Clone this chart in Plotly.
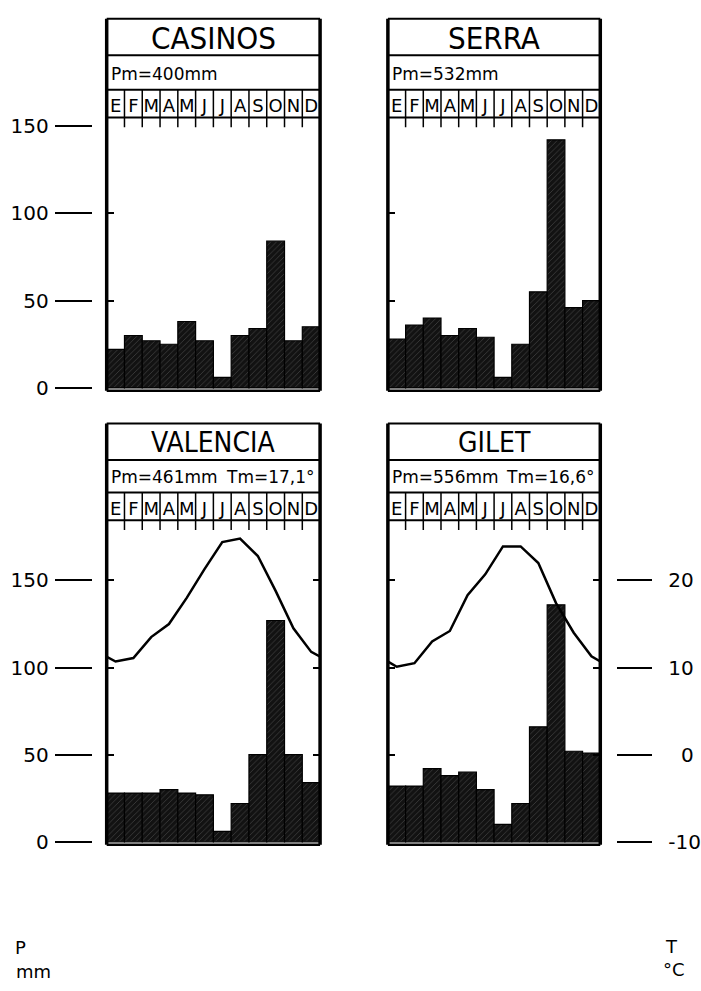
import plotly.graph_objects as go

# ---------------- data ----------------
months = ["E", "F", "M", "A", "M", "J", "J", "A", "S", "O", "N", "D"]
stations = ["CASINOS", "SERRA", "VALENCIA", "GILET"]
pm_labels = ["Pm=400mm", "Pm=532mm", "Pm=461mm", "Pm=556mm"]
tm_labels = ["", "", "Tm=17,1°", "Tm=16,6°"]

p_casinos = [22, 30, 27, 25, 38, 27, 6, 30, 34, 84, 27, 35]
p_serra = [28, 36, 40, 30, 34, 29, 6, 25, 55, 142, 46, 50]
p_valencia = [28, 28, 28, 30, 28, 27, 6, 22, 50, 127, 50, 34]
p_gilet = [32, 32, 42, 38, 40, 30, 10, 22, 66, 136, 52, 51]

t_valencia = [10.7, 11.1, 13.5, 15.0, 18.0, 21.3, 24.4, 24.8, 22.8, 18.8, 14.5, 11.8]
t_gilet = [10.1, 10.5, 13.0, 14.2, 18.3, 20.7, 23.9, 23.9, 22.0, 17.4, 14.0, 11.3]

p_ticks = [0, 50, 100, 150]
t_ticks = [-10, 0, 10, 20]

# ---------------- layout geometry (pixels) ----------------
W, H = 701, 991
def px(x):
    return x / W
def py(y):
    return 1 - y / H

cols = [(107, 321), (389, 602)]
rows = [
    dict(h0=15, h1=52, h2=87, h3=115, b=392, zero=389, scale=1.77),
    dict(h0=425, h1=462, h2=495, h3=523, b=852, zero=849, scale=1.766),
]
panels = [(0, 0), (0, 1), (1, 0), (1, 1)]
precip = [p_casinos, p_serra, p_valencia, p_gilet]
temps = [None, None, t_valencia, t_gilet]

TXT = "DejaVu Sans, Arial, sans-serif"
NARROW = "Liberation Sans Narrow, DejaVu Sans Condensed, Arial Narrow, sans-serif"

fig = go.Figure()
layout = dict(
    width=W, height=H, margin=dict(l=0, r=0, t=0, b=0),
    paper_bgcolor="white", plot_bgcolor="white", showlegend=False,
    font=dict(family=TXT, color="black"),
)
shapes = []
annotations = []

month_idx = list(range(12))

for k, ((r, c), p, t) in enumerate(zip(panels, precip, temps)):
    n = k + 1
    sx = "" if n == 1 else str(n)
    x0, x1 = cols[c]
    g = rows[r]
    yrange = [(g["zero"] - g["b"]) / g["scale"], (g["zero"] - g["h3"]) / g["scale"]]

    fig.add_trace(go.Bar(
        x=month_idx, y=p, width=1.0, xaxis="x" + sx, yaxis="y" + sx,
        marker=dict(color="#121212", line=dict(color="black", width=1.2),
                    pattern=dict(shape="/", fgcolor="#6f6f6f", bgcolor="#121212",
                                 size=4, solidity=0.2)),
        hoverinfo="skip",
    ))

    layout["xaxis" + sx] = dict(
        domain=[px(x0), px(x1)], range=[-0.5, 11.5], anchor="y" + sx,
        side="top", tickvals=month_idx, ticktext=months, ticks="", tickangle=0,
        tickfont=dict(size=18, family=TXT), ticklabelstandoff=1,
        showline=False, showgrid=False, zeroline=False, fixedrange=True,
    )
    layout["yaxis" + sx] = dict(
        domain=[py(g["b"]), py(g["h3"])], range=yrange, anchor="x" + sx,
        tickvals=[50, 100] if r == 0 else [50, 100, 150],
        ticks="inside", ticklen=7, tickwidth=2, tickcolor="black",
        showticklabels=False, showline=False, showgrid=False, zeroline=False,
        mirror="ticks" if r == 1 else False, fixedrange=True,
    )

    # frame lines
    def hline(y, w):
        shapes.append(dict(type="line", xref="paper", yref="paper",
                           x0=px(x0), x1=px(x1), y0=py(y), y1=py(y),
                           line=dict(color="black", width=w)))
    for yy in (g["h0"], g["h1"], g["h2"], g["h3"]):
        hline(yy, 2)
    hline(g["b"], 2.5)
    for xx in (x0, x1):
        shapes.append(dict(type="line", xref="paper", yref="paper",
                           x0=px(xx), x1=px(xx), y0=py(g["h0"]), y1=py(g["b"]),
                           line=dict(color="black", width=3.5)))
    for i in range(11):
        shapes.append(dict(type="line", xref="x" + sx, yref="paper",
                           x0=i + 0.5, x1=i + 0.5, y0=py(g["h2"]), y1=py(g["h3"] + 10),
                           line=dict(color="black", width=1.5)))

    # header texts
    annotations.append(dict(text=stations[k], xref="paper", yref="paper",
                            x=px((x0 + x1) / 2), y=py((g["h0"] + g["h1"]) / 2 + 1),
                            xanchor="center", yanchor="middle", showarrow=False,
                            font=dict(family=NARROW, size=31 if r == 0 else 28)))
    annotations.append(dict(text=pm_labels[k], xref="paper", yref="paper",
                            x=px(x0 + 2), y=py((g["h1"] + g["h2"]) / 2 + 1),
                            xanchor="left", yanchor="middle", showarrow=False,
                            font=dict(family=TXT, size=17)))
    if tm_labels[k]:
        annotations.append(dict(text=tm_labels[k], xref="paper", yref="paper",
                                x=px(x1 - 3), y=py((g["h1"] + g["h2"]) / 2 + 1),
                                xanchor="right", yanchor="middle", showarrow=False,
                                font=dict(family=TXT, size=17)))

# outer left precipitation axes (columns left)
for base, ax in (("y", "yaxis5"), ("y3", "yaxis6")):
    g = rows[0] if base == "y" else rows[1]
    yrange = [(g["zero"] - g["b"]) / g["scale"], (g["zero"] - g["h3"]) / g["scale"]]
    layout[ax] = dict(
        overlaying=base, anchor="free", position=px(92), side="left",
        range=yrange, tickvals=p_ticks, ticktext=[str(v) for v in p_ticks],
        ticks="outside", ticklen=37, tickwidth=2, tickcolor="black",
        tickfont=dict(size=20, family=TXT), ticklabelstandoff=2,
        showline=False, showgrid=False, zeroline=False, fixedrange=True,
    )
    fig.add_trace(go.Scatter(x=[None], y=[None], xaxis="x" if base == "y" else "x3",
                             yaxis="y" + ax[-1], hoverinfo="skip"))

# temperature axes
g = rows[1]
prange = [(g["zero"] - g["b"]) / g["scale"], (g["zero"] - g["h3"]) / g["scale"]]
trange = [v / 5 - 10 for v in prange]
layout["yaxis7"] = dict(
    overlaying="y4", anchor="free", position=px(618), side="right",
    range=trange, tickvals=t_ticks,
    ticktext=["-10", "\u20070", "10", "20"],
    ticks="outside", ticklen=35, tickwidth=2, tickcolor="black",
    tickfont=dict(size=20, family=TXT), ticklabelstandoff=12,
    showline=False, showgrid=False, zeroline=False, fixedrange=True,
)
layout["yaxis8"] = dict(overlaying="y3", anchor="x3", range=trange, visible=False,
                        fixedrange=True)

for t, xa, ya in ((t_valencia, "x3", "y8"), (t_gilet, "x4", "y7")):
    fig.add_trace(go.Scatter(
        x=[-1] + month_idx + [12], y=[t[-1]] + t + [t[0]],
        xaxis=xa, yaxis=ya, mode="lines",
        line=dict(color="black", width=2.5), hoverinfo="skip",
    ))

# unit labels
for txt, x, y, anc in (("P", 13, 956, "left"), ("mm", 14, 980, "left"),
                       ("T", 665, 955, "left"), ("°C", 663, 978, "left")):
    annotations.append(dict(text=txt, xref="paper", yref="paper", x=px(x), y=py(y),
                            xanchor=anc, yanchor="middle", showarrow=False,
                            font=dict(family=TXT, size=18)))

layout["shapes"] = shapes
layout["annotations"] = annotations
fig.update_layout(**layout)
fig.write_html("out.html")
